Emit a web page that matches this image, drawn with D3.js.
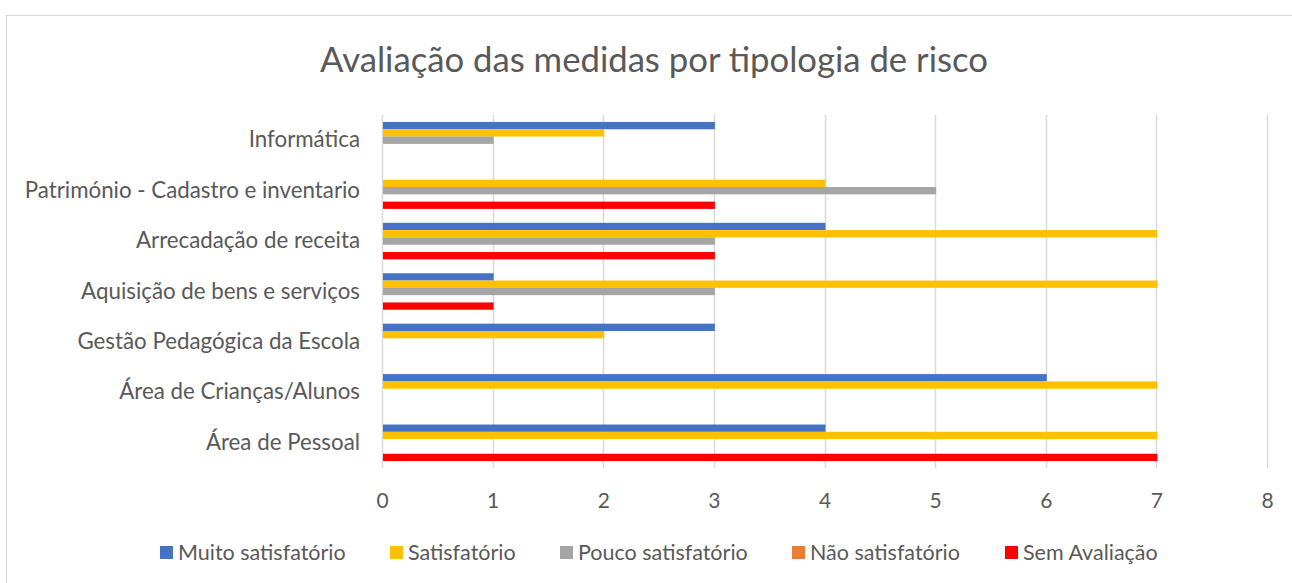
<!DOCTYPE html>
<html>
<head>
<meta charset="utf-8">
<script src="https://cdn.jsdelivr.net/npm/d3@7"></script>
<style>
  body { margin: 0; background: #fff; }
  text { font-family: Lato, "Open Sans", sans-serif; fill: #595959; }
</style>
</head>
<body>
<div id="chart"></div>
<script>
const WIDTH = 1292;
const HEIGHT = 583;

// categories, top to bottom
var CATEGORIES = [
  "Informática",
  "Património - Cadastro e inventario",
  "Arrecadação de receita",
  "Aquisição de bens e serviços",
  "Gestão Pedagógica da Escola",
  "Área de Crianças/Alunos",
  "Área de Pessoal"
];
var SERIES = ["Muito satisfatório", "Satisfatório", "Pouco satisfatório", "Não satisfatório", "Sem Avaliação"];
var COLORS = ["#4472C4", "#FFC000", "#A5A5A5", "#ED7D31", "#FF0000"];

// values per series, same order as CATEGORIES
var MUITO = [3, 0, 4, 1, 3, 6, 4];
var SATISF = [2, 4, 7, 7, 2, 7, 7];
var POUCO = [1, 5, 3, 3, 0, 0, 0];
var NAO = [0, 0, 0, 0, 0, 0, 0];
var SEM = [0, 3, 3, 1, 0, 0, 7];
var TICKS = [0, 1, 2, 3, 4, 5, 6, 7, 8];

var VALUES = [MUITO, SATISF, POUCO, NAO, SEM];

var plotLeft = 382, plotRight = 1267, plotTop = 115, plotBottom = 468;

var svg = d3.select("#chart").append("svg")
  .attr("width", WIDTH)
  .attr("height", HEIGHT);

// chart border
svg.append("rect")
  .attr("x", 6.5).attr("y", 15.5)
  .attr("width", WIDTH).attr("height", HEIGHT)
  .attr("fill", "none")
  .attr("stroke", "#D9D9D9");

var xScale = d3.scaleLinear().domain([0, 8]).range([plotLeft, plotRight]);

var yScale = d3.scaleBand()
  .domain(CATEGORIES)
  .range([plotTop, plotBottom])
  .paddingInner(0.276)
  .paddingOuter(0.138);

var sScale = d3.scaleBand()
  .domain(SERIES)
  .range([0, yScale.bandwidth()]);

// gridlines
svg.append("g")
  .selectAll("line")
  .data(TICKS)
  .enter()
  .append("line")
  .attr("x1", d => Math.round(xScale(d)) + 0.5)
  .attr("x2", d => Math.round(xScale(d)) + 0.5)
  .attr("y1", plotTop)
  .attr("y2", plotBottom)
  .attr("stroke", "#D9D9D9")
  .attr("stroke-width", 1.5);

// bars
var groups = svg.append("g")
  .selectAll("g")
  .data(CATEGORIES)
  .enter()
  .append("g")
  .attr("transform", d => "translate(0," + yScale(d) + ")");

groups.selectAll("rect")
  .data((c, ci) => SERIES.map((s, si) => ({ s: s, si: si, v: VALUES[si][ci] })))
  .enter()
  .append("rect")
  .attr("x", xScale(0) + 1)
  .attr("y", d => sScale(d.s))
  .attr("width", d => Math.max(0, xScale(d.v) - xScale(0)))
  .attr("height", sScale.bandwidth())
  .attr("fill", d => COLORS[d.si]);

// x axis labels
var xAxis = d3.axisBottom(xScale).tickValues(TICKS).tickSize(0).tickPadding(0);
var gx = svg.append("g")
  .attr("transform", "translate(0," + 508 + ")")
  .call(xAxis);
gx.select(".domain").remove();
gx.selectAll("text")
  .attr("dy", 0)
  .style("font-size", "21px")
  .attr("fill", "#595959");

// y axis labels
var yAxis = d3.axisLeft(yScale).tickSize(0).tickPadding(0);
var gy = svg.append("g")
  .attr("transform", "translate(360,0)")
  .call(yAxis);
gy.select(".domain").remove();
gy.selectAll("text")
  .style("font-size", "22.3px")
  .attr("fill", "#595959");

// title
svg.append("text")
  .attr("x", 654)
  .attr("y", 72)
  .attr("text-anchor", "middle")
  .style("font-size", "34.7px")
  .text("Avaliação das medidas por tipologia de risco");

// legend
var LEG_X = [160, 390, 560, 792, 1005];
var leg = svg.append("g")
  .selectAll("g")
  .data(SERIES)
  .enter()
  .append("g")
  .attr("transform", (d, i) => "translate(" + LEG_X[i] + ",546)");
leg.append("rect")
  .attr("width", 13).attr("height", 13)
  .attr("fill", (d, i) => COLORS[i]);
leg.append("text")
  .attr("x", 18)
  .attr("y", 14)
  .style("font-size", "21.5px")
  .text(d => d);
</script>
</body>
</html>
